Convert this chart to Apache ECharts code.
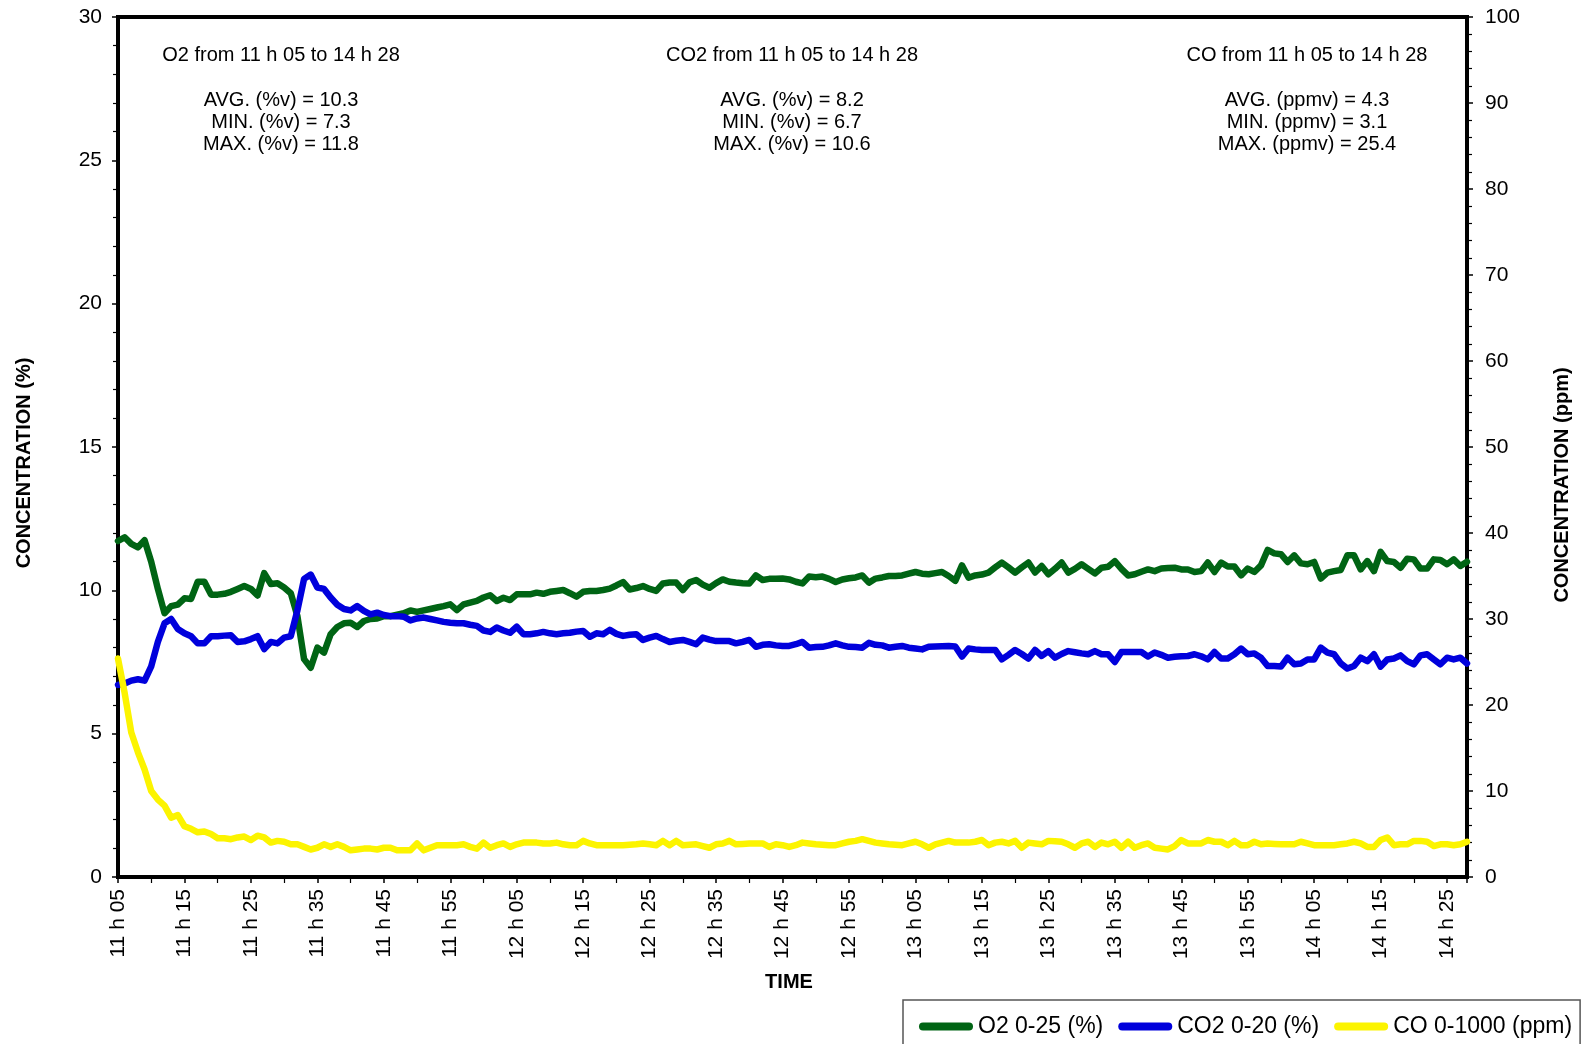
<!DOCTYPE html>
<html>
<head>
<meta charset="utf-8">
<script src="https://cdn.jsdelivr.net/npm/echarts@6/dist/echarts.min.js"></script>
<style>
html,body{margin:0;padding:0;background:#fff;}
#chart{width:1581px;height:1044px;}
</style>
</head>
<body>
<div id="chart"></div>
<script>
// Tick labels for the time axis (every 10 minutes from 11 h 05)
const timeTicks = ['11 h 05','11 h 15','11 h 25','11 h 35','11 h 45','11 h 55','12 h 05','12 h 15','12 h 25','12 h 35','12 h 45','12 h 55','13 h 05','13 h 15','13 h 25','13 h 35','13 h 45','13 h 55','14 h 05','14 h 15','14 h 25'];

// O2 (%), one reading per minute from 11 h 05 to 14 h 28
const o2 = [
11.72,11.85,11.62,11.5,11.75,11.0,10.05,9.2,9.45,9.5,
9.72,9.7,10.3,10.3,9.85,9.85,9.88,9.95,10.05,10.15,
10.05,9.82,10.6,10.22,10.25,10.1,9.9,9.1,7.6,7.3,
8.0,7.83,8.47,8.72,8.85,8.87,8.72,8.93,9.0,9.02,
9.1,9.1,9.15,9.2,9.3,9.25,9.3,9.35,9.4,9.45,
9.51,9.31,9.51,9.57,9.63,9.75,9.83,9.63,9.74,9.66,
9.86,9.86,9.86,9.92,9.88,9.95,9.98,10.01,9.9,9.78,
9.95,9.98,9.98,10.01,10.06,10.17,10.29,10.03,10.08,10.15,
10.05,9.98,10.24,10.27,10.27,10.01,10.28,10.36,10.2,10.09,
10.25,10.38,10.3,10.27,10.25,10.24,10.52,10.36,10.4,10.4,
10.41,10.38,10.3,10.24,10.48,10.46,10.48,10.4,10.29,10.38,
10.42,10.45,10.52,10.27,10.41,10.45,10.5,10.5,10.52,10.58,
10.64,10.58,10.56,10.6,10.64,10.5,10.33,10.87,10.44,10.52,
10.55,10.62,10.8,10.97,10.8,10.62,10.8,10.97,10.62,10.85,
10.56,10.75,10.97,10.62,10.75,10.91,10.75,10.59,10.79,10.82,
11.02,10.75,10.52,10.56,10.65,10.73,10.67,10.76,10.78,10.79,
10.73,10.73,10.64,10.67,10.97,10.64,10.97,10.83,10.83,10.52,
10.76,10.64,10.87,11.41,11.29,11.26,10.99,11.22,10.94,10.91,
10.99,10.41,10.62,10.67,10.71,11.22,11.22,10.73,11.02,10.67,
11.34,11.02,10.99,10.79,11.1,11.08,10.76,10.76,11.08,11.06,
10.91,11.08,10.85,11.0
];

// CO2 (%), one reading per minute
const co2 = [
6.7,6.75,6.85,6.9,6.85,7.35,8.2,8.85,9.0,8.65,
8.5,8.4,8.15,8.15,8.4,8.4,8.42,8.43,8.2,8.22,
8.3,8.4,7.95,8.2,8.15,8.35,8.4,9.3,10.4,10.55,
10.1,10.05,9.75,9.5,9.35,9.3,9.45,9.28,9.16,9.22,
9.14,9.1,9.1,9.08,8.95,9.02,9.05,9.0,8.95,8.9,
8.87,8.85,8.85,8.8,8.76,8.6,8.55,8.7,8.6,8.52,
8.73,8.47,8.47,8.5,8.55,8.5,8.47,8.5,8.52,8.56,
8.58,8.38,8.5,8.47,8.62,8.48,8.41,8.45,8.47,8.27,
8.35,8.41,8.3,8.2,8.24,8.27,8.2,8.12,8.35,8.28,
8.23,8.23,8.23,8.15,8.2,8.27,8.03,8.1,8.12,8.08,
8.06,8.06,8.12,8.2,8.0,8.02,8.03,8.08,8.15,8.08,
8.03,8.02,8.0,8.17,8.1,8.08,8.0,8.03,8.06,8.0,
7.97,7.94,8.03,8.04,8.05,8.06,8.04,7.69,7.97,7.94,
7.92,7.92,7.92,7.59,7.75,7.92,7.78,7.62,7.92,7.71,
7.88,7.65,7.78,7.88,7.84,7.8,7.77,7.88,7.77,7.77,
7.5,7.85,7.85,7.85,7.85,7.69,7.83,7.75,7.65,7.68,
7.7,7.71,7.77,7.7,7.59,7.85,7.62,7.62,7.77,7.97,
7.77,7.8,7.65,7.36,7.36,7.34,7.65,7.42,7.45,7.59,
7.59,8.0,7.83,7.77,7.45,7.27,7.36,7.65,7.53,7.77,
7.34,7.59,7.62,7.73,7.53,7.42,7.73,7.77,7.59,7.42,
7.65,7.59,7.65,7.45
];

// CO (ppm), one reading per minute, right axis
const co = [
25.4,21.4,16.8,14.5,12.5,10.0,9.0,8.3,6.9,7.2,
5.9,5.6,5.2,5.3,5.0,4.5,4.5,4.4,4.6,4.7,
4.3,4.8,4.6,4.0,4.2,4.1,3.8,3.8,3.5,3.2,
3.4,3.8,3.5,3.8,3.5,3.1,3.2,3.3,3.3,3.2,
3.4,3.4,3.1,3.1,3.1,3.9,3.1,3.4,3.7,3.7,
3.7,3.7,3.8,3.5,3.3,4.0,3.4,3.7,3.9,3.5,
3.8,4.0,4.0,4.0,3.9,3.9,4.0,3.8,3.7,3.7,
4.2,3.9,3.7,3.7,3.7,3.7,3.7,3.75,3.8,3.9,
3.8,3.7,4.2,3.7,4.2,3.7,3.75,3.8,3.6,3.4,
3.8,3.9,4.2,3.8,3.85,3.9,3.9,3.9,3.5,3.8,
3.7,3.5,3.7,4.0,3.9,3.8,3.75,3.7,3.7,3.9,
4.1,4.2,4.4,4.2,4.0,3.9,3.8,3.75,3.7,3.9,
4.1,3.8,3.4,3.8,4.0,4.2,4.0,4.0,4.0,4.1,
4.3,3.7,4.0,4.1,3.9,4.2,3.4,4.0,3.9,3.8,
4.2,4.15,4.1,3.8,3.4,3.9,4.1,3.5,4.0,3.8,
4.1,3.4,4.1,3.4,3.7,3.9,3.4,3.3,3.2,3.6,
4.3,3.9,3.9,3.9,4.3,4.1,4.1,3.7,4.2,3.7,
3.7,4.1,3.8,3.9,3.85,3.8,3.8,3.8,4.1,3.9,
3.7,3.7,3.7,3.7,3.8,3.9,4.1,3.9,3.5,3.5,
4.3,4.6,3.7,3.8,3.8,4.2,4.2,4.1,3.6,3.8,
3.8,3.7,3.8,4.1
];

const seriesNames = ['O2 0-25 (%)','CO2 0-20 (%)','CO 0-1000 (ppm)'];
const seriesColors = ['#006414','#0000dc','#fcf400'];

const statTitles = ['O2 from 11 h 05 to 14 h 28','CO2 from 11 h 05 to 14 h 28','CO from 11 h 05 to 14 h 28'];
const statLines = [
  ['AVG. (%v) = 10.3','MIN. (%v) = 7.3','MAX. (%v) = 11.8'],
  ['AVG. (%v) = 8.2','MIN. (%v) = 6.7','MAX. (%v) = 10.6'],
  ['AVG. (ppmv) = 4.3','MIN. (ppmv) = 3.1','MAX. (ppmv) = 25.4']
];

const FONT = 'Liberation Sans, Arial, sans-serif';
const chart = echarts.init(document.getElementById('chart'), null, {renderer:'canvas'});

const statX = [281, 792, 1307];
const graphics = [];
statTitles.forEach((t, i) => {
  graphics.push({type:'text', x: statX[i], y: 55, style:{text:t, fill:'#000', font:'20px ' + FONT, align:'center', verticalAlign:'middle'}});
  statLines[i].forEach((s, j) => {
    graphics.push({type:'text', x: statX[i], y: 100 + j*22, style:{text:s, fill:'#000', font:'20px ' + FONT, align:'center', verticalAlign:'middle'}});
  });
});
graphics.push({type:'text', x: 24, y: 463, rotation: Math.PI/2, style:{text:'CONCENTRATION (%)', fill:'#000', font:'bold 20px ' + FONT, align:'center', verticalAlign:'middle'}});
graphics.push({type:'text', x: 1562, y: 485, rotation: Math.PI/2, style:{text:'CONCENTRATION (ppm)', fill:'#000', font:'bold 20px ' + FONT, align:'center', verticalAlign:'middle'}});
graphics.push({type:'text', x: 789, y: 982, style:{text:'TIME', fill:'#000', font:'bold 20px ' + FONT, align:'center', verticalAlign:'middle'}});

const axisCommon = {
  axisLine:{show:true, onZero:false, lineStyle:{color:'#000', width:4}},
  axisTick:{show:true, inside:false, length:6, lineStyle:{color:'#000', width:1.5}},
  minorTick:{show:true, length:5, lineStyle:{color:'#000', width:1.2}},
  splitLine:{show:false},
  axisLabel:{color:'#000', fontSize:21, fontFamily:FONT}
};

const option = {
  backgroundColor:'#fff',
  animation:false,
  grid:{left:118, right:114, top:17, bottom:167, show:true, borderColor:'#000', borderWidth:4, backgroundColor:'transparent'},
  xAxis:Object.assign({}, axisCommon, {
    type:'value', min:0, max:203, interval:10,
    minorTick:{show:true, splitNumber:2, length:6, lineStyle:{color:'#000', width:1.2}},
    axisLabel:{color:'#000', fontSize:21, fontFamily:FONT, rotate:90, margin:12, showMaxLabel:false,
      formatter:function(v){ return (v % 10 === 0 && v/10 < timeTicks.length) ? timeTicks[v/10] : ''; }}
  }),
  yAxis:[
    Object.assign({}, axisCommon, {type:'value', position:'left', min:0, max:30, interval:5,
      minorTick:{show:true, splitNumber:5, length:5, lineStyle:{color:'#000', width:1.2}},
      axisLabel:{color:'#000', fontSize:21, fontFamily:FONT, margin:16}}),
    Object.assign({}, axisCommon, {type:'value', position:'right', min:0, max:100, interval:10,
      minorTick:{show:true, splitNumber:5, length:5, lineStyle:{color:'#000', width:1.2}},
      axisLabel:{color:'#000', fontSize:21, fontFamily:FONT, margin:18}})
  ],
  legend:{
    data:seriesNames, left:903, top:1000, width:700, orient:'horizontal',
    itemWidth:54, itemHeight:8, itemGap:15,
    icon:'path://M4,0 L50,0 A4,4 0 0 1 50,8 L4,8 A4,4 0 0 1 4,0 Z',
    textStyle:{color:'#000', fontSize:23, fontFamily:FONT},
    padding:[15, 8, 40, 16],
    borderColor:'#555', borderWidth:1.5, backgroundColor:'#fff'
  },
  graphic:graphics,
  series:[o2, co2, co].map((arr, k) => ({
    name:seriesNames[k], type:'line', yAxisIndex: k === 2 ? 1 : 0,
    data:arr.map((v, i) => [i, v]),
    showSymbol:false, symbol:'none', smooth:false, clip:false,
    color:seriesColors[k],
    itemStyle:{color:seriesColors[k]},
    lineStyle:{color:seriesColors[k], width:6.5, cap:'round', join:'round'},
    z: 2 + k
  }))
};
chart.setOption(option);
</script>
</body>
</html>
